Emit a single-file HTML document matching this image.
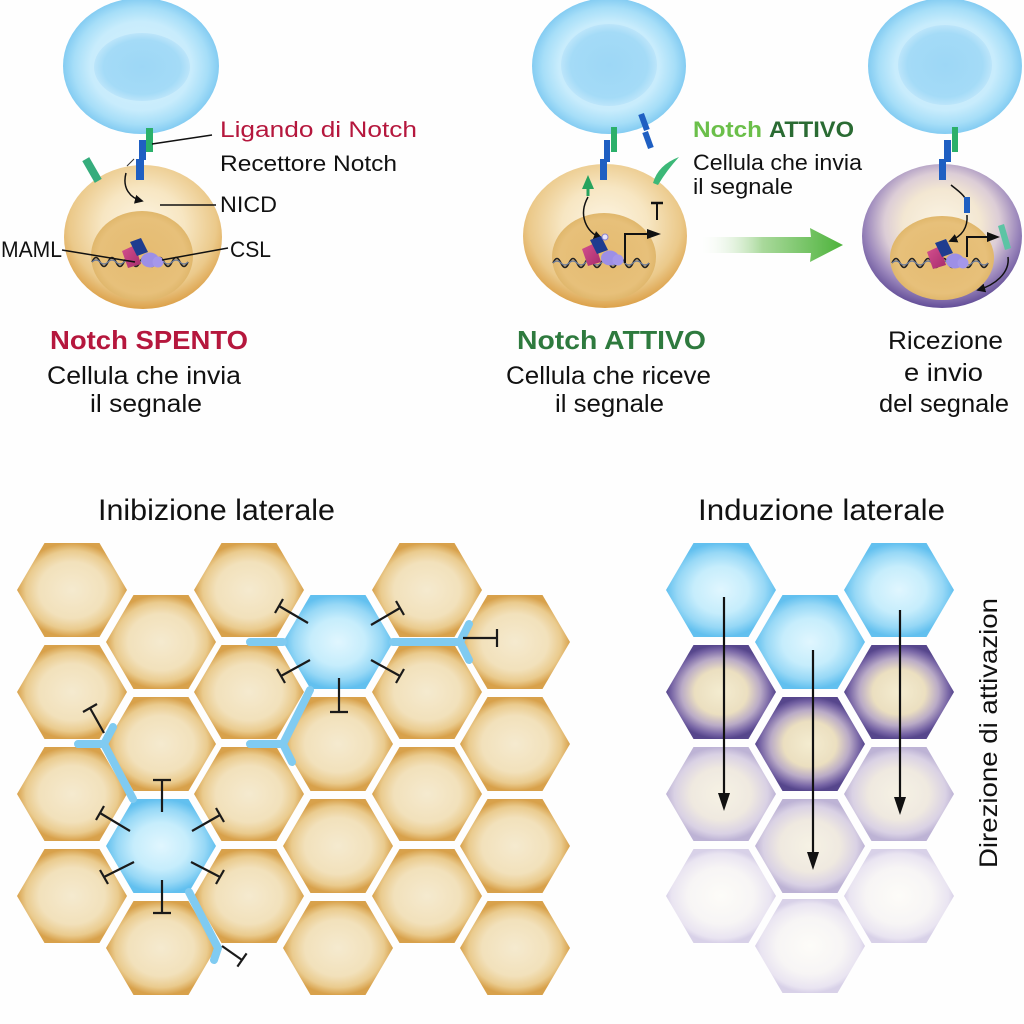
<!DOCTYPE html>
<html><head><meta charset="utf-8">
<style>
html,body{margin:0;padding:0;background:#fff;width:1024px;height:1024px;overflow:hidden}
svg{display:block}
text{font-family:"Liberation Sans",Arial,sans-serif}
</style></head>
<body>
<svg width="1024" height="1024" viewBox="0 0 1024 1024" xmlns="http://www.w3.org/2000/svg">
<defs>
  <path id="hx" d="M-55,0L-27.5,-47L27.5,-47L55,0L27.5,47L-27.5,47Z"/>
  <radialGradient id="gOr" cx=".5" cy=".5" r=".5">
    <stop offset="0" stop-color="#f5eacf"/><stop offset=".6" stop-color="#f2e1bb"/>
    <stop offset=".84" stop-color="#eacb8e"/><stop offset="1" stop-color="#d8a14b"/>
  </radialGradient>
  <radialGradient id="gBl" cx=".5" cy=".5" r=".5">
    <stop offset="0" stop-color="#e0f6fe"/><stop offset=".5" stop-color="#c6edfc"/>
    <stop offset=".8" stop-color="#97d8f6"/><stop offset="1" stop-color="#62c0ef"/>
  </radialGradient>
  <radialGradient id="gPu" cx=".5" cy=".5" r=".5">
    <stop offset="0" stop-color="#f4ecd0"/><stop offset=".48" stop-color="#ebdfc0"/>
    <stop offset=".72" stop-color="#b9aac6"/><stop offset=".9" stop-color="#7866a6"/><stop offset="1" stop-color="#56468c"/>
  </radialGradient>
  <radialGradient id="gLp" cx=".5" cy=".5" r=".5">
    <stop offset="0" stop-color="#f6f2e4"/><stop offset=".55" stop-color="#efe9e0"/>
    <stop offset=".85" stop-color="#d9d1e4"/><stop offset="1" stop-color="#bdb3d5"/>
  </radialGradient>
  <radialGradient id="gVl" cx=".5" cy=".5" r=".5">
    <stop offset="0" stop-color="#fdfcf8"/><stop offset=".6" stop-color="#f7f5f5"/>
    <stop offset=".9" stop-color="#e9e4f1"/><stop offset="1" stop-color="#d8d1e8"/>
  </radialGradient>
  <radialGradient id="gBc" cx=".5" cy=".5" r=".5">
    <stop offset="0" stop-color="#d4f1fd"/><stop offset=".65" stop-color="#c8ecfc"/>
    <stop offset=".86" stop-color="#a6def8"/><stop offset="1" stop-color="#84ccf2"/>
  </radialGradient>
  <radialGradient id="gBn" cx=".5" cy=".5" r=".5">
    <stop offset="0" stop-color="#9dd7f6"/><stop offset=".8" stop-color="#a4dbf7"/><stop offset="1" stop-color="#bce5fa"/>
  </radialGradient>
  <radialGradient id="gOc" cx=".5" cy=".42" r=".58">
    <stop offset="0" stop-color="#fcf4e2"/><stop offset=".45" stop-color="#f7e6c2"/>
    <stop offset=".8" stop-color="#ebc98a"/><stop offset="1" stop-color="#dca14a"/>
  </radialGradient>
  <radialGradient id="gPc" cx=".5" cy=".42" r=".58">
    <stop offset="0" stop-color="#fbf4e4"/><stop offset=".42" stop-color="#f3e7d2"/>
    <stop offset=".62" stop-color="#dccdd6"/><stop offset=".82" stop-color="#9c88bc"/><stop offset="1" stop-color="#634e98"/>
  </radialGradient>
  <radialGradient id="gNu" cx=".5" cy=".5" r=".5">
    <stop offset="0" stop-color="#e5bb70"/><stop offset=".85" stop-color="#e7c07a"/><stop offset="1" stop-color="#e0b76c"/>
  </radialGradient>
  <linearGradient id="gPink" x1="0" y1="0" x2="1" y2="1">
    <stop offset="0" stop-color="#d5508f"/><stop offset="1" stop-color="#a62c6c"/>
  </linearGradient>
  <linearGradient id="gArr" gradientUnits="userSpaceOnUse" x1="697" y1="0" x2="843" y2="0">
    <stop offset="0" stop-color="#ffffff" stop-opacity="0"/><stop offset=".45" stop-color="#a9d99b"/><stop offset="1" stop-color="#4db33b"/>
  </linearGradient>
  <marker id="ah" viewBox="0 0 10 10" refX="8" refY="5" markerWidth="6" markerHeight="6" orient="auto">
    <path d="M0,0L10,5L0,10z" fill="#111"/>
  </marker>
  <g id="prot">
    <path d="M0,8L13,2L19,21L6,25Z" fill="url(#gPink)"/>
    <path d="M8,-1L19,-5L26,9L15,13Z" fill="#1f3c8f"/>
    <ellipse cx="28" cy="17" rx="9" ry="7.5" fill="#9d8fe6"/>
    <circle cx="36" cy="19" r="5.5" fill="#a597ea"/>
  </g>
</defs>

<rect width="1024" height="1024" fill="#fefefe"/>

<!-- ================= TOP LEFT ================= -->
<ellipse cx="141" cy="66" rx="78" ry="68" fill="url(#gBc)"/>
<ellipse cx="142" cy="67" rx="48" ry="34" fill="url(#gBn)"/>
<ellipse cx="143" cy="237" rx="79" ry="72" fill="url(#gOc)"/>
<ellipse cx="142" cy="256" rx="51" ry="45" fill="url(#gNu)"/>
<rect x="146" y="128" width="7" height="24" fill="#2bb06a"/>
<rect x="139" y="140" width="7" height="20" fill="#1f5fc2"/>
<rect x="136" y="159" width="8" height="21" fill="#1f5fc2"/>
<rect x="-4" y="-12.5" width="8" height="25" transform="translate(92,170) rotate(-30)" fill="#35ac7c"/>
<path d="M127,166 L134,159" stroke="#333" stroke-width="1"/>
<path d="M126,173 C122,188 130,198 142,201" stroke="#111" stroke-width="1.5" fill="none" marker-end="url(#ah)"/>
<!-- DNA -->
<path d="M92,262 q4,-9 8,0 t8,0 t8,0 t8,0 t8,0 t8,0 t8,0 t8,0 t8,0 t8,0 t8,0 t8,0" stroke="#222" stroke-width="1.6" fill="none"/>
<path d="M92,262 q4,-4 8,0 t8,0 t8,0 t8,0 t8,0 t8,0 t8,0 t8,0 t8,0 t8,0 t8,0 t8,0" stroke="#6a7a9a" stroke-width="1.2" fill="none"/>
<use href="#prot" x="122" y="243"/>
<!-- leaders -->
<g stroke="#111" stroke-width="1.5" fill="none">
  <line x1="152" y1="144" x2="212" y2="135"/>
  <line x1="160" y1="205" x2="216" y2="205"/>
  <line x1="62" y1="250" x2="135" y2="262"/>
  <line x1="228" y1="248" x2="162" y2="260"/>
</g>
<text x="220" y="137" font-size="22" fill="#b5173d" textLength="197" lengthAdjust="spacingAndGlyphs">Ligando di Notch</text>
<text x="220" y="171" font-size="22" fill="#111" textLength="177" lengthAdjust="spacingAndGlyphs">Recettore Notch</text>
<text x="220" y="212" font-size="22" fill="#111" textLength="57" lengthAdjust="spacingAndGlyphs">NICD</text>
<text x="1" y="257" font-size="22" fill="#111" textLength="61" lengthAdjust="spacingAndGlyphs">MAML</text>
<text x="230" y="257" font-size="22" fill="#111" textLength="41" lengthAdjust="spacingAndGlyphs">CSL</text>

<!-- ================= TOP MIDDLE ================= -->
<ellipse cx="609" cy="66" rx="77" ry="68" fill="url(#gBc)"/>
<ellipse cx="609" cy="65" rx="48" ry="41" fill="url(#gBn)"/>
<ellipse cx="605" cy="236" rx="82" ry="72" fill="url(#gOc)"/>
<ellipse cx="604" cy="257" rx="52" ry="44" fill="url(#gNu)"/>
<rect x="611" y="127" width="6" height="25" fill="#2bb06a"/>
<rect x="604" y="140" width="6" height="22" fill="#1f5fc2"/>
<rect x="600" y="159" width="7" height="21" fill="#1f5fc2"/>
<rect x="-3" y="-8.5" width="6" height="17" transform="translate(644,122) rotate(-20)" fill="#1f5fc2"/>
<rect x="-3" y="-8.5" width="6" height="17" transform="translate(648,140) rotate(-20)" fill="#1f5fc2"/>
<path d="M653,183 Q658,165 679,157 Q667,170 658,185 Z" fill="#3cb878"/>
<polygon points="588,175 582,189 594,189" fill="#27a35e"/>
<line x1="588" y1="188" x2="588" y2="196" stroke="#27a35e" stroke-width="3"/>
<path d="M588,197 C578,215 586,232 601,238" stroke="#111" stroke-width="1.5" fill="none" marker-end="url(#ah)"/>
<line x1="657" y1="203" x2="657" y2="220" stroke="#111" stroke-width="2"/>
<line x1="651" y1="203" x2="663" y2="203" stroke="#111" stroke-width="2.5"/>
<path d="M553,263 q4,-9 8,0 t8,0 t8,0 t8,0 t8,0 t8,0 t8,0 t8,0 t8,0 t8,0 t8,0 t8,0" stroke="#222" stroke-width="1.6" fill="none"/>
<path d="M553,263 q4,-4 8,0 t8,0 t8,0 t8,0 t8,0 t8,0 t8,0 t8,0 t8,0 t8,0 t8,0 t8,0" stroke="#6a7a9a" stroke-width="1.2" fill="none"/>
<use href="#prot" x="582" y="241"/>
<circle cx="605" cy="237" r="3" fill="#e8e4f8" stroke="#8a80d0" stroke-width="1"/>
<polyline points="625,263 625,234 649,234" stroke="#111" stroke-width="2" fill="none"/>
<polygon points="647,229 661,234 647,239" fill="#111"/>

<text x="693" y="137" font-size="22" font-weight="bold" fill="#6bbf4a" textLength="69" lengthAdjust="spacingAndGlyphs">Notch</text>
<text x="769" y="137" font-size="22" font-weight="bold" fill="#2a6b33" textLength="85" lengthAdjust="spacingAndGlyphs">ATTIVO</text>
<text x="693" y="170" font-size="22" fill="#111" textLength="169" lengthAdjust="spacingAndGlyphs">Cellula che invia</text>
<text x="693" y="194" font-size="22" fill="#111" textLength="100" lengthAdjust="spacingAndGlyphs">il segnale</text>

<!-- big green arrow -->
<path d="M697,237 L811,237 L810,228 L843,245 L810,262 L811,253 L697,253 Z" fill="url(#gArr)"/>

<!-- ================= TOP RIGHT ================= -->
<ellipse cx="945" cy="66" rx="77" ry="68" fill="url(#gBc)"/>
<ellipse cx="945" cy="65" rx="47" ry="40" fill="url(#gBn)"/>
<ellipse cx="942" cy="236" rx="80" ry="72" fill="url(#gPc)"/>
<ellipse cx="942" cy="258" rx="52" ry="42" fill="url(#gNu)"/>
<rect x="952" y="127" width="6" height="25" fill="#2bb06a"/>
<rect x="944" y="140" width="7" height="22" fill="#1f5fc2"/>
<rect x="939" y="159" width="7" height="21" fill="#1f5fc2"/>
<path d="M951,185 C957,190 962,193 965,198" stroke="#111" stroke-width="1.5" fill="none"/>
<rect x="964" y="197" width="6" height="16" fill="#1f5fc2"/>
<path d="M967,215 C968,228 962,236 950,241" stroke="#111" stroke-width="1.5" fill="none" marker-end="url(#ah)"/>
<path d="M892,263 q4,-9 8,0 t8,0 t8,0 t8,0 t8,0 t8,0 t8,0 t8,0 t8,0 t8,0 t8,0 t8,0" stroke="#222" stroke-width="1.6" fill="none"/>
<path d="M892,263 q4,-4 8,0 t8,0 t8,0 t8,0 t8,0 t8,0 t8,0 t8,0 t8,0 t8,0 t8,0 t8,0" stroke="#6a7a9a" stroke-width="1.2" fill="none"/>
<use href="#prot" x="927" y="244"/>
<polyline points="967,257 967,237 989,237" stroke="#111" stroke-width="2" fill="none"/>
<polygon points="987,232 1000,237 987,242" fill="#111"/>
<polygon points="998,226 1004,224 1011,248 1005,250" fill="#5cc4a4"/>
<path d="M1008,257 C1010,273 995,285 978,290" stroke="#111" stroke-width="1.5" fill="none" marker-end="url(#ah)"/>

<!-- captions -->
<text x="50" y="349" font-size="26" font-weight="bold" fill="#b5173d" textLength="198" lengthAdjust="spacingAndGlyphs">Notch SPENTO</text>
<text x="47" y="384" font-size="25" fill="#111" textLength="194" lengthAdjust="spacingAndGlyphs">Cellula che invia</text>
<text x="90" y="412" font-size="25" fill="#111" textLength="112" lengthAdjust="spacingAndGlyphs">il segnale</text>

<text x="517" y="349" font-size="26" font-weight="bold" fill="#2e7a3e" textLength="189" lengthAdjust="spacingAndGlyphs">Notch ATTIVO</text>
<text x="506" y="384" font-size="25" fill="#111" textLength="205" lengthAdjust="spacingAndGlyphs">Cellula che riceve</text>
<text x="555" y="412" font-size="25" fill="#111" textLength="109" lengthAdjust="spacingAndGlyphs">il segnale</text>

<text x="888" y="349" font-size="25" fill="#111" textLength="115" lengthAdjust="spacingAndGlyphs">Ricezione</text>
<text x="904" y="381" font-size="25" fill="#111" textLength="79" lengthAdjust="spacingAndGlyphs">e invio</text>
<text x="879" y="412" font-size="25" fill="#111" textLength="130" lengthAdjust="spacingAndGlyphs">del segnale</text>

<text x="98" y="520" font-size="30" fill="#111" textLength="237" lengthAdjust="spacingAndGlyphs">Inibizione laterale</text>
<text x="698" y="520" font-size="30" fill="#111" textLength="247" lengthAdjust="spacingAndGlyphs">Induzione laterale</text>

<!-- ================= LEFT GRID ================= -->
<g fill="url(#gOr)">
  <use href="#hx" x="72" y="590"/><use href="#hx" x="72" y="692"/><use href="#hx" x="72" y="794"/><use href="#hx" x="72" y="896"/>
  <use href="#hx" x="161" y="642"/><use href="#hx" x="161" y="744"/><use href="#hx" x="161" y="948"/>
  <use href="#hx" x="249" y="590"/><use href="#hx" x="249" y="692"/><use href="#hx" x="249" y="794"/><use href="#hx" x="249" y="896"/>
  <use href="#hx" x="338" y="744"/><use href="#hx" x="338" y="846"/><use href="#hx" x="338" y="948"/>
  <use href="#hx" x="427" y="590"/><use href="#hx" x="427" y="692"/><use href="#hx" x="427" y="794"/><use href="#hx" x="427" y="896"/>
  <use href="#hx" x="515" y="642"/><use href="#hx" x="515" y="744"/><use href="#hx" x="515" y="846"/><use href="#hx" x="515" y="948"/>
</g>
<g fill="url(#gBl)">
  <use href="#hx" x="338" y="642"/>
  <use href="#hx" x="161" y="846"/>
</g>
<!-- blue connectors -->
<g stroke="#80cbf1" stroke-width="8" stroke-linecap="round" stroke-linejoin="round" fill="none">
  <path d="M393,642 L460,642 M460,642 L469,624 M460,642 L469,660"/>
  <path d="M250,642 L283,642"/>
  <path d="M310,690 L283,744 L250,744 M283,744 L292,762"/>
  <path d="M78,744 L104,744 L113,727 M104,744 L133,799"/>
  <path d="M189,892 L218,948 L214,960"/>
</g>
<!-- inhibition T's -->
<g stroke="#1a1a1a" stroke-width="2.2" fill="none">
  <line x1="308" y1="623" x2="279" y2="606"/><line x1="283" y1="599" x2="275" y2="613"/>
  <line x1="371" y1="625" x2="400" y2="608"/><line x1="404" y1="615" x2="396" y2="601"/>
  <line x1="310" y1="660" x2="281" y2="676"/><line x1="285" y1="683" x2="277" y2="669"/>
  <line x1="371" y1="660" x2="400" y2="676"/><line x1="396" y1="683" x2="404" y2="669"/>
  <line x1="339" y1="678" x2="339" y2="712"/><line x1="330" y1="712" x2="348" y2="712"/>
  <line x1="463" y1="638" x2="497" y2="638"/><line x1="497" y1="629" x2="497" y2="647"/>
  <line x1="162" y1="812" x2="162" y2="780"/><line x1="153" y1="780" x2="171" y2="780"/>
  <line x1="130" y1="831" x2="100" y2="813"/><line x1="104" y1="806" x2="96" y2="820"/>
  <line x1="192" y1="831" x2="220" y2="815"/><line x1="216" y1="808" x2="224" y2="822"/>
  <line x1="134" y1="862" x2="104" y2="877"/><line x1="100" y1="870" x2="108" y2="884"/>
  <line x1="191" y1="862" x2="220" y2="877"/><line x1="216" y1="884" x2="224" y2="870"/>
  <line x1="162" y1="880" x2="162" y2="913"/><line x1="153" y1="913" x2="171" y2="913"/>
  <line x1="104" y1="733" x2="90" y2="708"/><line x1="97" y1="704" x2="83" y2="712"/>
  <line x1="222" y1="946" x2="242" y2="960"/><line x1="237.4" y1="966.6" x2="246.6" y2="953.4"/>
</g>

<!-- ================= RIGHT GRID ================= -->
<g fill="url(#gBl)">
  <use href="#hx" x="721" y="590"/><use href="#hx" x="810" y="642"/><use href="#hx" x="899" y="590"/>
</g>
<g fill="url(#gPu)">
  <use href="#hx" x="721" y="692"/><use href="#hx" x="810" y="744"/><use href="#hx" x="899" y="692"/>
</g>
<g fill="url(#gLp)">
  <use href="#hx" x="721" y="794"/><use href="#hx" x="810" y="846"/><use href="#hx" x="899" y="794"/>
</g>
<g fill="url(#gVl)">
  <use href="#hx" x="721" y="896"/><use href="#hx" x="810" y="946"/><use href="#hx" x="899" y="896"/>
</g>
<g stroke="#111" stroke-width="2.2">
  <line x1="724" y1="597" x2="724" y2="796"/>
  <line x1="813" y1="650" x2="813" y2="853"/>
  <line x1="900" y1="610" x2="900" y2="798"/>
</g>
<g fill="#111">
  <polygon points="718,793 730,793 724,811"/>
  <polygon points="807,852 819,852 813,870"/>
  <polygon points="894,797 906,797 900,815"/>
</g>
<text transform="translate(997,868) rotate(-90)" x="0" y="0" font-size="25" fill="#111" textLength="270" lengthAdjust="spacingAndGlyphs">Direzione di attivazion</text>
</svg>
</body></html>
